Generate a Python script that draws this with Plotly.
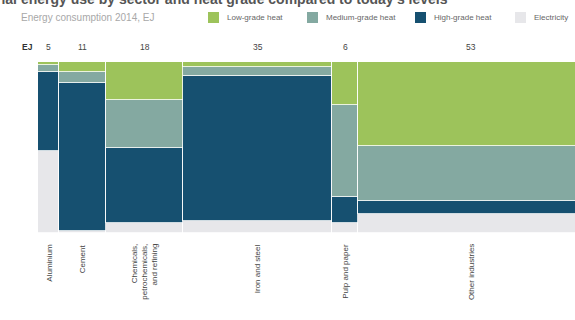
import plotly.graph_objects as go

# Industrial sectors and their 2014 energy consumption (EJ) -> column widths
sectors = ["Aluminium", "Cement", "Chemicals,<br>petrochemicals,<br>and refining",
           "Iron and steel", "Pulp and paper", "Other industries"]
energy_ej = [5, 11, 18, 35, 6, 53]

# Share of each sector's energy by heat grade (%), stacked bottom to top
series_names = ["Electricity", "High-grade heat", "Medium-grade heat", "Low-grade heat"]
electricity = [48, 1, 6, 7, 6, 11]
high_grade = [46, 87, 44, 85, 15, 8]
medium_grade = [4, 6, 28, 5, 54, 32]
low_grade = [2, 6, 22, 3, 25, 49]
series_values = [electricity, high_grade, medium_grade, low_grade]
series_colors = ["#E7E7EA", "#165070", "#84A9A1", "#9DC35B"]

# Marimekko geometry: each column starts where the previous one ends
starts = []
acc = 0
for w in energy_ej:
    starts.append(acc)
    acc += w
centers = [s + w / 2 for s, w in zip(starts, energy_ej)]

fig = go.Figure()
for name, vals, col in zip(series_names, series_values, series_colors):
    fig.add_trace(go.Bar(
        x=centers, y=vals, width=energy_ej, name=name,
        marker=dict(color=col, line=dict(color="white", width=0.8)),
        showlegend=False, hoverinfo="name+y",
    ))

W, H = 575, 320
L, R, T, B = 38, 0, 62, 87
pw, ph = W - L - R, H - T - B


def px(x):
    return (x - L) / pw


def py(y):
    return (H - B - y) / ph


ann = []
# Cropped headline
ann.append(dict(text="<b>Industrial energy use by sector and heat grade compared to today's levels</b>",
                x=px(450), y=py(-1), xref="paper", yref="paper", xanchor="right", yanchor="middle",
                showarrow=False, font=dict(size=14, color="#555555", family="Arial")))
# Subtitle
ann.append(dict(text="Energy consumption 2014, EJ", x=px(19), y=py(17), xref="paper", yref="paper",
                xanchor="left", yanchor="middle", showarrow=False,
                font=dict(size=10, color="#A8A8A8", family="Arial")))

# Legend (top-to-bottom order of the stack)
legend_x = [208, 307, 415, 515]
shapes = []
for lx, name, col in zip(legend_x, series_names[::-1], series_colors[::-1]):
    shapes.append(dict(type="rect", xref="paper", yref="paper",
                       x0=px(lx), x1=px(lx + 11), y0=py(23), y1=py(12),
                       fillcolor=col, line=dict(width=0)))
    ann.append(dict(text=name, x=px(lx + 17), y=py(17.5), xref="paper", yref="paper",
                    xanchor="left", yanchor="middle", showarrow=False,
                    font=dict(size=8, color="#666666", family="Arial")))

# Column totals above each sector
ann.append(dict(text="<b>EJ</b>", x=px(20), y=py(47), xref="paper", yref="paper",
                xanchor="left", yanchor="middle", showarrow=False,
                font=dict(size=8.5, color="#333333", family="Arial")))
for c, v in zip(centers, energy_ej):
    ann.append(dict(text=str(v), x=c, y=py(47), xref="x", yref="paper",
                    xanchor="center", yanchor="middle", showarrow=False,
                    font=dict(size=8.5, color="#444444", family="Arial")))

# Rotated sector names under each column
for c, name in zip(centers, sectors):
    ann.append(dict(text=name, x=c, y=0, xref="x", yref="paper", xanchor="center",
                    yanchor="top", yshift=-9, textangle=-90, align="right", showarrow=False,
                    font=dict(size=8, color="#444444", family="Arial")))

fig.update_layout(
    width=W, height=H, margin=dict(l=L, r=R, t=T, b=B),
    barmode="stack", bargap=0,
    paper_bgcolor="white", plot_bgcolor="white",
    xaxis=dict(range=[0, pw / 4.267], visible=False, fixedrange=True),
    yaxis=dict(range=[0, 100], visible=False, fixedrange=True),
    annotations=ann, shapes=shapes,
)

fig.write_html("out.html")
